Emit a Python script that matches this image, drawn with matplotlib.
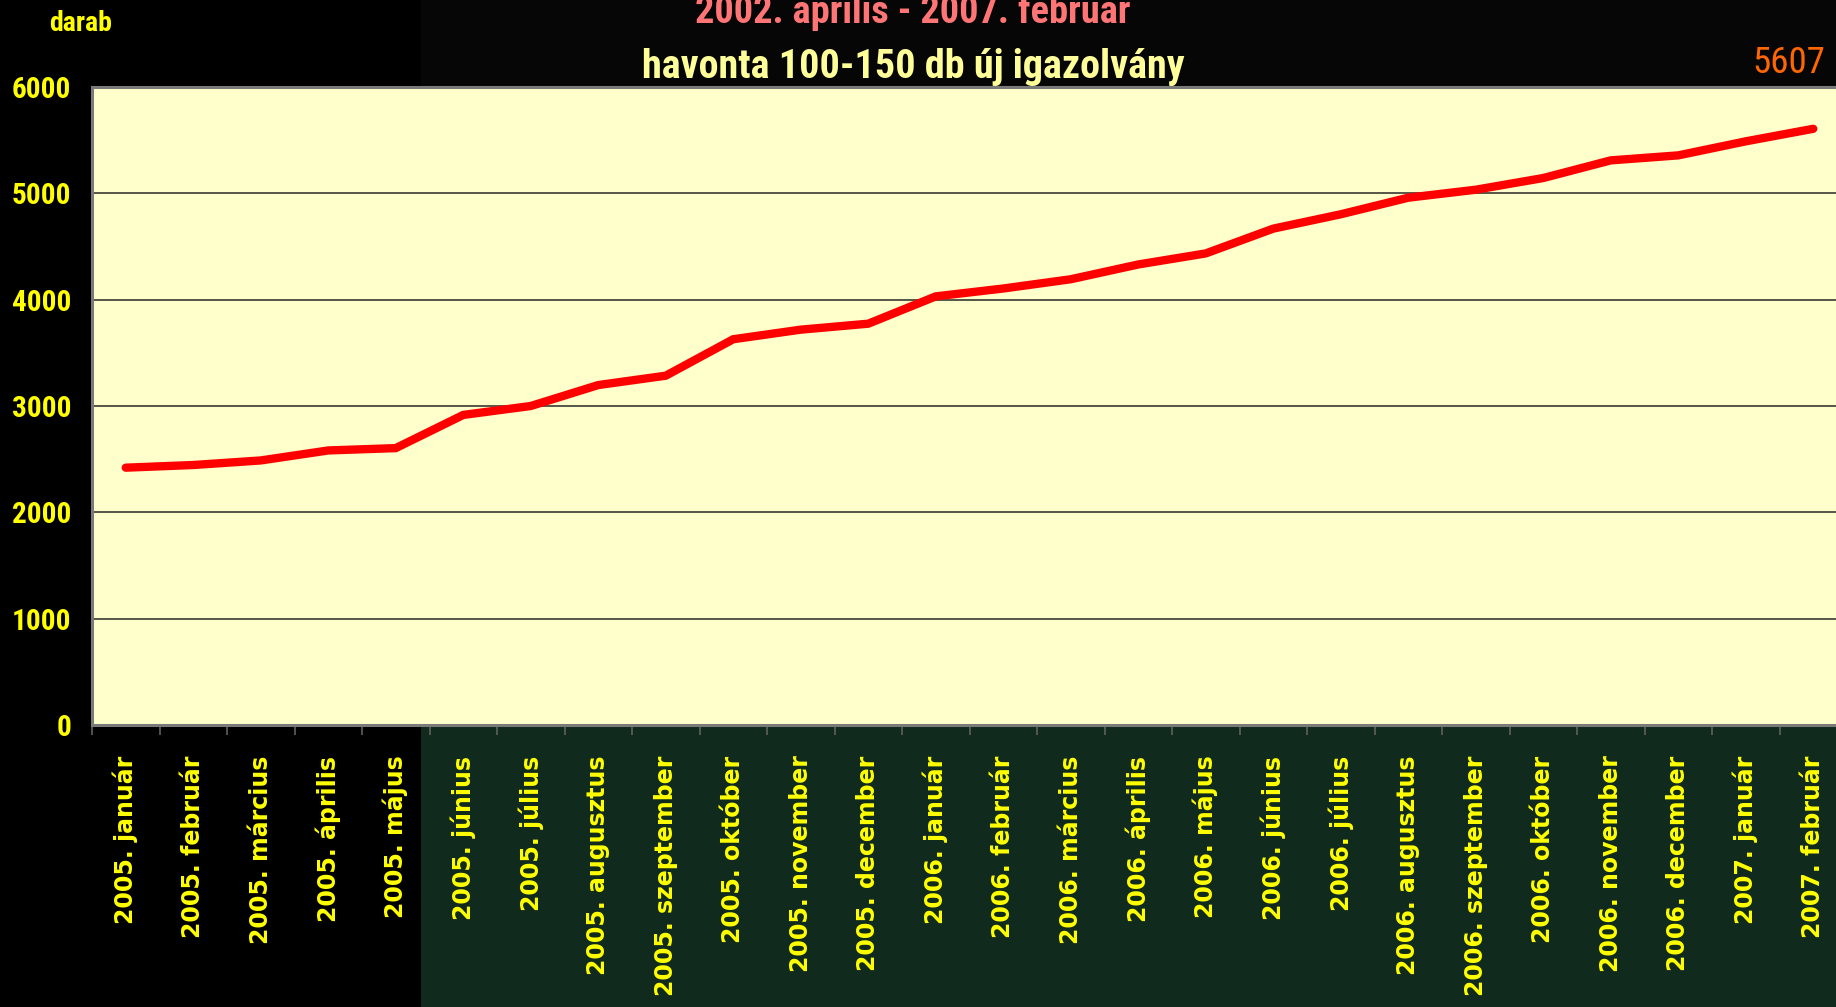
import os
import matplotlib
matplotlib.use("Agg")
import matplotlib.pyplot as plt
from matplotlib import font_manager as fm
from matplotlib.patches import Rectangle

# ---- data ----
months = ["2005. január", "2005. február", "2005. március", "2005. április", "2005. május",
          "2005. június", "2005. július", "2005. augusztus", "2005. szeptember", "2005. október",
          "2005. november", "2005. december", "2006. január", "2006. február", "2006. március",
          "2006. április", "2006. május", "2006. június", "2006. július", "2006. augusztus",
          "2006. szeptember", "2006. október", "2006. november", "2006. december",
          "2007. január", "2007. február"]
values = [2420, 2445, 2488, 2582, 2604, 2916, 3000, 3197, 3285, 3628, 3718, 3774, 4031,
          4105, 4192, 4331, 4435, 4668, 4803, 4959, 5034, 5144, 5310, 5357, 5489, 5607]
y_ticks = [0, 1000, 2000, 3000, 4000, 5000, 6000]
title1 = "2002. április - 2007. február"
title2 = "havonta 100-150 db új igazolvány"
y_unit = "darab"
last_label = "5607"


def find_font(patterns):
    for pat in patterns:
        for f in fm.fontManager.ttflist:
            if pat.lower() in os.path.basename(f.fname).lower():
                return f.fname
    return None


bold_path = find_font(["LiberationSansNarrow-Bold.", "RobotoCondensed-Bold.", "Roboto_Condensed-Bold.",
                       "OpenSans-CondBold", "OpenSans_Condensed-Bold.", "DejaVuSansCondensed-Bold."])
reg_path = find_font(["LiberationSansNarrow-Regular.", "RobotoCondensed-Regular.",
                      "Roboto_Condensed-Regular.", "OpenSans_Condensed-Regular.",
                      "DejaVuSansCondensed."])
FP_BOLD = fm.FontProperties(fname=bold_path) if bold_path else fm.FontProperties(family="Liberation Sans", weight="bold")
FP_REG = fm.FontProperties(fname=reg_path) if reg_path else fm.FontProperties(family="Liberation Sans")

W, H = 1836, 1007
fig = plt.figure(figsize=(W / 100, H / 100), dpi=100, facecolor="black")
renderer = fig.canvas.get_renderer()


def fx(px):
    return px / W


def fy(py):
    return 1 - py / H


def fit(t, target_w):
    w = t.get_window_extent(renderer).width
    t.set_fontsize(t.get_fontsize() * target_w / w)
    return t.get_fontsize()


# background panels
fig.patches.append(Rectangle((fx(421), 0), 1 - fx(421), fy(725), transform=fig.transFigure,
                             facecolor="#112a1e", edgecolor="none", zorder=-5))
fig.patches.append(Rectangle((fx(421), fy(88)), 1 - fx(421), 1 - fy(88), transform=fig.transFigure,
                             facecolor="#060606", edgecolor="none", zorder=-5))

left, right, top, bottom = 92, 92 + 26 * 67.5, 87, 725
ax = fig.add_axes([fx(left), fy(bottom), fx(right - left), (bottom - top) / H])
ax.set_facecolor("#FFFFCC")

x = list(range(len(months)))
ax.plot(x, values, color="#FF0000", lw=6, solid_capstyle="round", solid_joinstyle="miter", zorder=3)

ax.set_xlim(-0.5, len(months) - 0.5)
ax.set_ylim(0, 6000)
ax.set_yticks(y_ticks)
ax.set_yticklabels([str(v) for v in y_ticks])
for v in y_ticks[1:-1]:
    ax.axhline(v, color="#3a3a30", lw=1.2, zorder=1)

ax.set_xticks(x)
ax.set_xticklabels(months, rotation=90, ha="center", va="top")
ax.set_xticks([i + 0.5 for i in range(-1, len(months))], minor=True)
ax.tick_params(axis="x", which="major", length=0, pad=22)
ax.tick_params(axis="x", which="minor", length=7.5, width=1.2, color="#606060", direction="out")
ax.tick_params(axis="y", length=0, pad=15)

for lbl in ax.get_xticklabels():
    lbl.set_family("DejaVu Sans")
    lbl.set_fontweight("bold")
    lbl.set_fontsize(17)
    lbl.set_color("#FFFF00")

# size of y tick labels fitted to the reference width of "6000"
probe = fig.text(0, 0, "6000", fontproperties=FP_BOLD, fontsize=20)
ysize = fit(probe, 59)
probe.remove()
for lbl in ax.get_yticklabels():
    lbl.set_fontproperties(FP_BOLD)
    lbl.set_fontsize(ysize)
    lbl.set_color("#FFFF00")

for side in ["top", "left", "bottom"]:
    ax.spines[side].set_color("#7a7a7a")
    ax.spines[side].set_linewidth(2.2)
ax.spines["right"].set_visible(False)

t1 = fig.text(fx(913), fy(23), title1, color="#FF7575", fontproperties=FP_BOLD, fontsize=26,
              ha="center", va="baseline")
fit(t1, 438)
t2 = fig.text(fx(913), fy(78), title2, color="#FFFF99", fontproperties=FP_BOLD, fontsize=28,
              ha="center", va="baseline")
fit(t2, 543)
t3 = fig.text(fx(81), fy(31), y_unit, color="#FFFF00", fontproperties=FP_BOLD, fontsize=18,
              ha="center", va="baseline")
fit(t3, 63)
t4 = fig.text(fx(1825), fy(73), last_label, color="#FF6600", fontproperties=FP_REG, fontsize=27,
              ha="right", va="baseline")
fit(t4, 73)

fig.savefig("out.png", dpi=100, facecolor=fig.get_facecolor())
